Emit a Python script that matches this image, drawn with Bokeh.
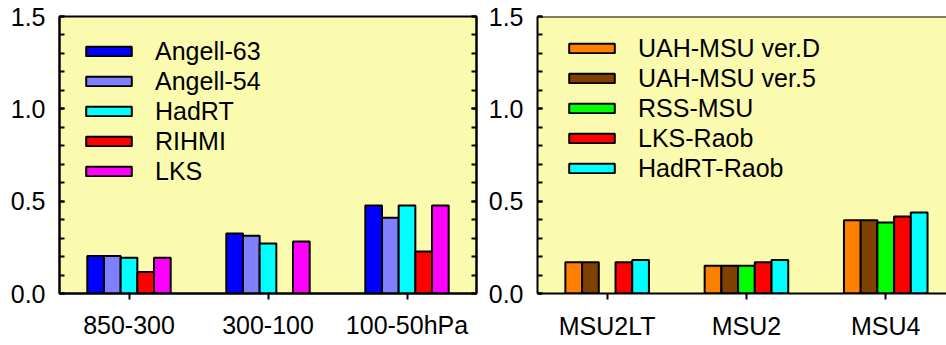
import numpy as np
from bokeh.plotting import figure
from bokeh.models import (ColumnDataSource, FixedTicker, LinearAxis, Range1d, Span,
                          PrintfTickFormatter, CustomJSTickFormatter)
from bokeh.layouts import row
from bokeh.transform import dodge
from bokeh.embed import file_html
from bokeh.resources import INLINE

# ---------------- data ----------------
left_categories = ["850-300", "300-100", "100-50hPa"]
left_series = ["Angell-63", "Angell-54", "HadRT", "RIHMI", "LKS"]
angell63 = [0.203, 0.325, 0.477]
angell54 = [0.203, 0.313, 0.410]
hadrt = [0.193, 0.271, 0.477]
rihmi = [0.117, None, 0.228]
lks = [0.193, 0.282, 0.477]
left_colors = ["#0000FF", "#8080FF", "#00FFFF", "#FF0000", "#FF00FF"]

right_categories = ["MSU2LT", "MSU2", "MSU4"]
right_series = ["UAH-MSU ver.D", "UAH-MSU ver.5", "RSS-MSU", "LKS-Raob", "HadRT-Raob"]
uah_d = [0.169, 0.150, 0.396]
uah_5 = [0.169, 0.150, 0.396]
rss_msu = [None, 0.150, 0.385]
lks_raob = [0.169, 0.169, 0.417]
hadrt_raob = [0.182, 0.182, 0.438]
right_colors = ["#FF8000", "#804000", "#00FF00", "#FF0000", "#00FFFF"]

y_major = [0.0, 0.5, 1.0, 1.5]
BG = "#FBFBAF"
FONT = "Liberation Sans"
FS = "25px"


def make_panel(categories, series_names, series_values, colors, width, height,
               mb_left, mb_right, mb_top, mb_bottom, x_end, right_ticks, legend_xy,
               x_standoff, legend_standoff):
    p = figure(width=width, height=height, output_backend="svg", toolbar_location=None,
               x_range=Range1d(0.5, x_end), y_range=Range1d(0, 1.5),
               min_border_left=mb_left, min_border_right=mb_right,
               min_border_top=mb_top, min_border_bottom=mb_bottom)
    p.background_fill_color = BG
    p.border_fill_color = "white"
    p.xgrid.visible = False
    p.ygrid.visible = False

    positions = list(range(1, len(categories) + 1))
    n = len(series_names)
    bw = 0.12
    for i, (name, vals, col) in enumerate(zip(series_names, series_values, colors)):
        xs = [x for x, v in zip(positions, vals) if v is not None]
        ys = [v for v in vals if v is not None]
        src = ColumnDataSource(dict(x=xs, top=ys))
        off = (i - (n - 1) / 2) * bw
        p.vbar(x=dodge("x", off), top="top", width=bw, source=src,
               fill_color=col, line_color="black", line_width=2,
               legend_label=name)

    # x axis
    xa = p.xaxis[0]
    xa.ticker = FixedTicker(ticks=positions)
    xa.major_label_overrides = {pos: c for pos, c in zip(positions, categories)}
    xa.major_tick_in = 0
    xa.major_tick_out = 6
    xa.major_tick_line_width = 2
    xa.minor_tick_line_color = None
    xa.axis_line_width = 2
    xa.major_label_standoff = x_standoff
    xa.major_label_text_font = FONT
    xa.major_label_text_font_size = FS
    xa.major_label_text_color = "black"

    yticker = FixedTicker(ticks=y_major,
                          minor_ticks=list(np.round(np.arange(0, 1.51, 0.1), 1)))
    ya = p.yaxis[0]
    ya.ticker = yticker
    ya.formatter = PrintfTickFormatter(format="%.1f")
    ya.major_tick_in = 5
    ya.major_tick_out = 0
    ya.minor_tick_in = 5
    ya.minor_tick_out = 0
    ya.major_tick_line_width = 2
    ya.minor_tick_line_width = 2
    ya.axis_line_width = 2
    ya.major_label_standoff = 14
    ya.major_label_text_font = FONT
    ya.major_label_text_font_size = FS
    ya.major_label_text_color = "black"

    if right_ticks:
        ra = LinearAxis(ticker=yticker, formatter=CustomJSTickFormatter(code="return ''"),
                        major_label_standoff=0, major_tick_in=5, major_tick_out=0,
                        minor_tick_in=5, minor_tick_out=0, major_tick_line_width=2,
                        minor_tick_line_width=2, axis_line_width=2)
        p.add_layout(ra, "right")
        p.outline_line_color = "black"
        p.outline_line_width = 2
    else:
        p.outline_line_color = None
        p.add_layout(Span(location=1.5, dimension="width", line_color="black",
                          line_width=2))

    lg = p.legend[0]
    lg.location = legend_xy
    lg.background_fill_alpha = 0
    lg.border_line_color = None
    lg.padding = 0
    lg.margin = 0
    lg.spacing = 0
    lg.glyph_width = 57
    lg.glyph_height = 12
    lg.label_height = 30
    lg.label_standoff = legend_standoff
    lg.label_text_font = FONT
    lg.label_text_font_size = FS
    lg.label_text_color = "black"
    return p


p1 = make_panel(left_categories, left_series, [angell63, angell54, hadrt, rihmi, lks],
                left_colors, width=480, height=345, mb_left=59, mb_right=4,
                mb_top=15, mb_bottom=52, x_end=3.5, right_ticks=True,
                legend_xy=(21, 107), x_standoff=11, legend_standoff=18)
p2 = make_panel(right_categories, right_series, [uah_d, uah_5, rss_msu, lks_raob, hadrt_raob],
                right_colors, width=466, height=345, mb_left=57, mb_right=0,
                mb_top=16, mb_bottom=48, x_end=0.5 + 409 / 139.3, right_ticks=False,
                legend_xy=(26, 110), x_standoff=12, legend_standoff=18)

layout = row(p1, p2)
open("out.html", "w").write(file_html(layout, INLINE))
